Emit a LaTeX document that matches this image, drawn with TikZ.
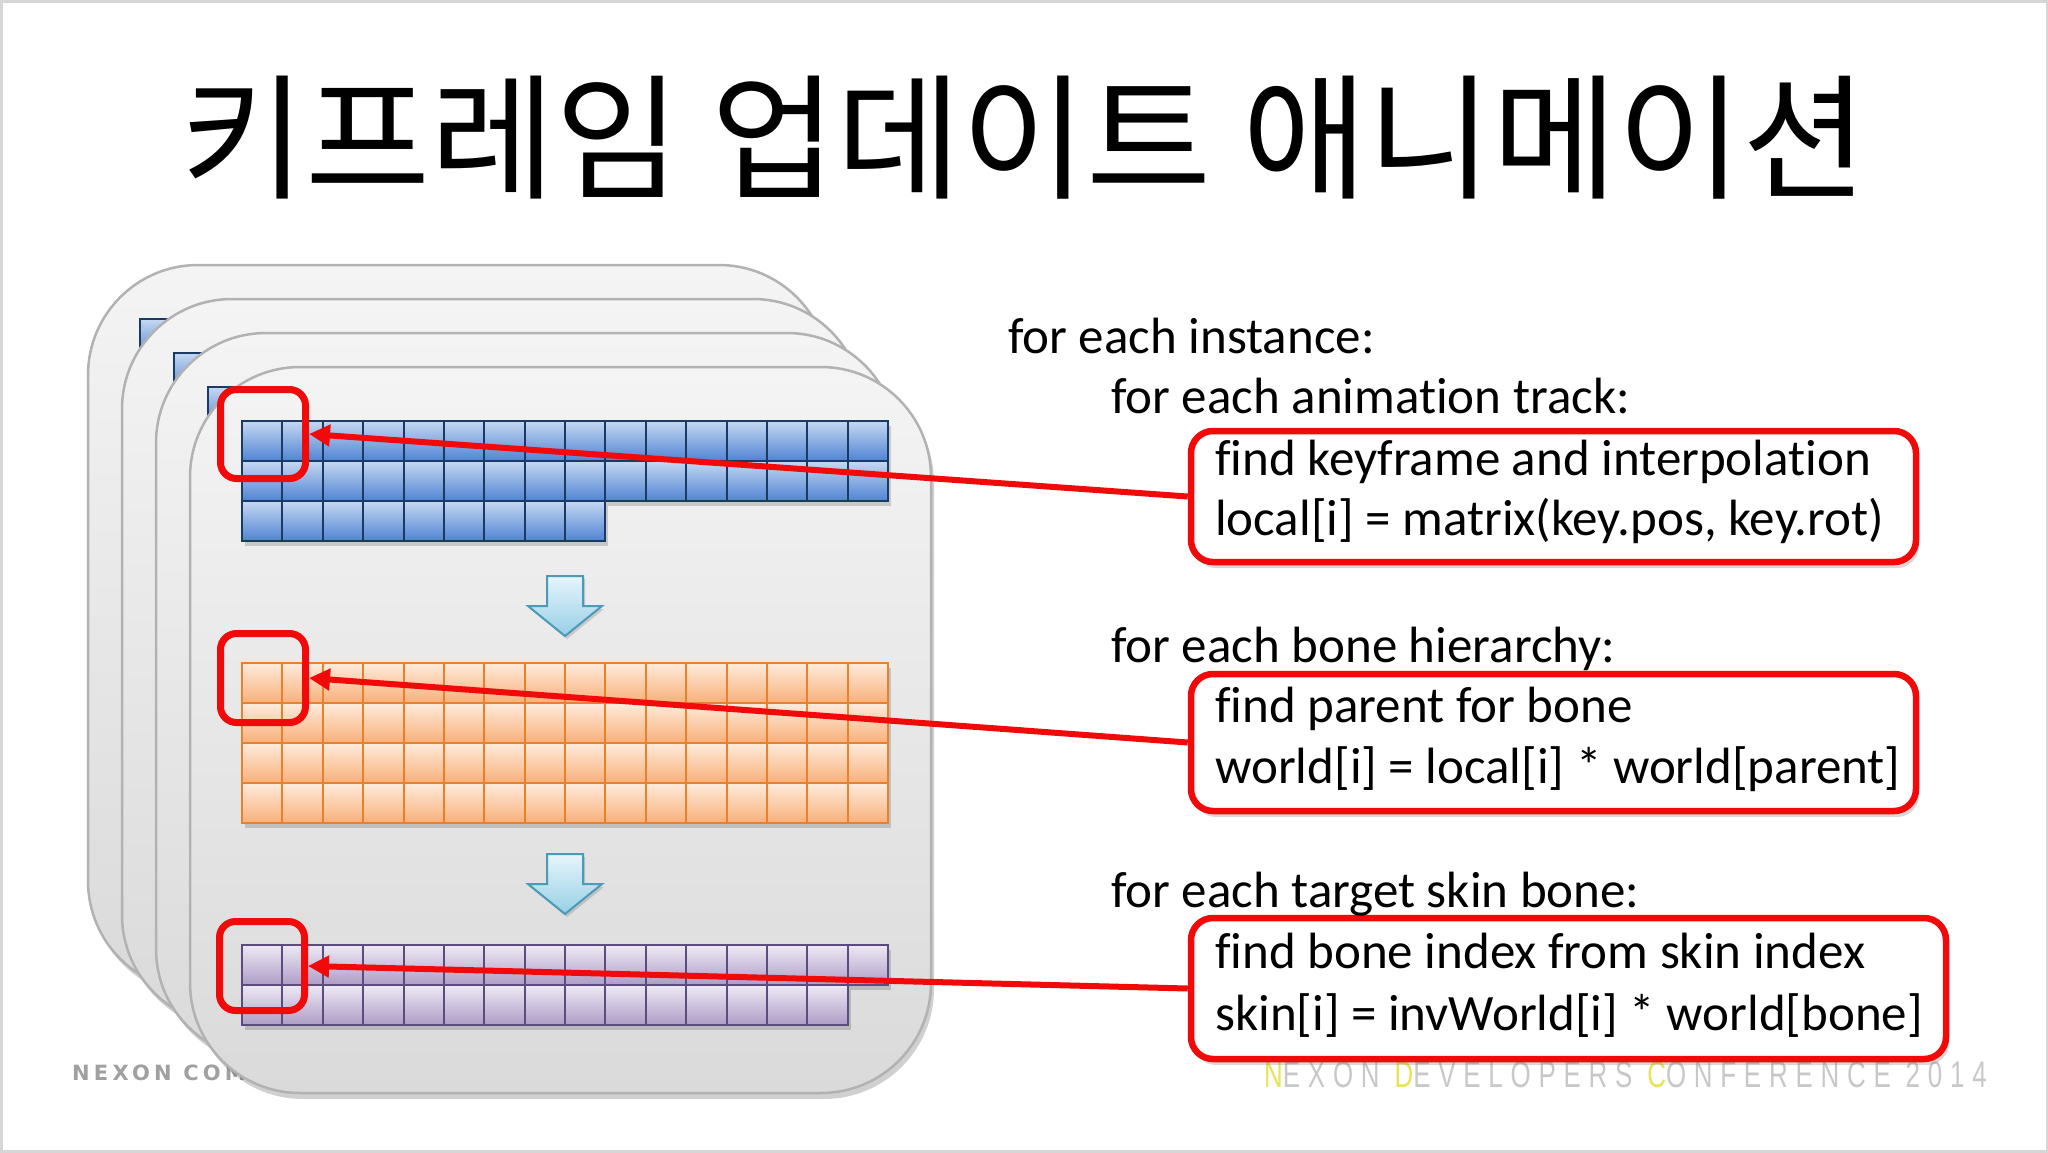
\documentclass[tikz,border=0pt]{standalone}
\usepackage{fontspec}
\setmainfont[Ligatures=CommonOff]{Carlito}
\newfontfamily\krfont{Noto Sans CJK KR}
\newfontfamily\nexonfont[LetterSpace=20]{DejaVu Sans Bold}
\newfontfamily\ndcfont[FakeStretch=0.7,LetterSpace=21]{Liberation Sans}
\usetikzlibrary{shadows,arrows.meta}

\definecolor{cardtop}{HTML}{F4F4F4}
\definecolor{cardbot}{HTML}{DADADA}
\definecolor{cardline}{HTML}{B2B2B2}
\definecolor{bluetop}{HTML}{C6D8F2}
\definecolor{bluebot}{HTML}{4F83D3}
\definecolor{blueline}{HTML}{1B3A63}
\definecolor{orgtop}{HTML}{FEEBDC}
\definecolor{orgbot}{HTML}{F8B07A}
\definecolor{orgline}{HTML}{E8802C}
\definecolor{purtop}{HTML}{EEE9F4}
\definecolor{purbot}{HTML}{AD9CC6}
\definecolor{purline}{HTML}{5E4B7D}
\definecolor{arrtop}{HTML}{E6F5FB}
\definecolor{arrbot}{HTML}{97CFE6}
\definecolor{arrline}{HTML}{4C9AB8}
\definecolor{hlred}{HTML}{F00A0A}
\definecolor{framegray}{HTML}{D6D6D6}
\definecolor{footgray}{HTML}{A0A0A0}
\definecolor{ndcgray}{HTML}{C8C8C8}
\definecolor{ndcyellow}{HTML}{E6E655}

\tikzset{
  card/.style={draw=cardline, line width=2.5pt, rounded corners=110pt,
    top color=cardtop, bottom color=cardbot, inner sep=0pt, outer sep=0pt,
    minimum width=741pt, minimum height=726pt, anchor=north west,
    drop shadow={shadow xshift=3pt, shadow yshift=-6pt, opacity=0.3, fill=black!60}},
  bluecell/.style={top color=bluetop, bottom color=bluebot, draw=blueline, line width=2pt},
  orgcell/.style={top color=orgtop, bottom color=orgbot, draw=orgline, line width=2pt},
  purcell/.style={top color=purtop, bottom color=purbot, draw=purline, line width=2pt},
  cellshadow/.style={fill=black, opacity=0.16},
  blockarrow/.style={top color=arrtop, bottom color=arrbot, draw=arrline, line width=2pt,
    line join=miter,
    drop shadow={shadow xshift=2pt, shadow yshift=-3pt, opacity=0.25, fill=black!60}},
  hlbox/.style={draw=hlred, line width=7pt, rounded corners=16pt, inner sep=0pt,
    minimum width=85pt, minimum height=89pt},
  codebox/.style={draw=hlred, fill=white, line width=6.5pt, rounded corners=22pt, inner sep=0pt,
    drop shadow={shadow xshift=3pt, shadow yshift=-6pt, opacity=0.3, fill=black!50}},
  link/.style={draw=hlred, line width=6pt, -{Triangle[length=21pt,width=21pt]}},
  code/.style={inner sep=0pt, anchor=base west, font=\fontsize{51}{60}\selectfont, text=black},
}

% #1 x0, #2 y0, #3 list row/count, #4 cell style, #5 cell width
\newcommand\gridrows[5]{%
  \foreach \rr/\nn in {#3} {
    \fill[cellshadow] ({#1+3},{#2+\rr*40+5}) rectangle ({#1+3+\nn*#5},{#2+(\rr+1)*40+5});
  }
  \foreach \rr/\nn in {#3} {
    \foreach \cc in {1,...,\nn} {
      \path[#4] ({#1+(\cc-1)*#5},{#2+\rr*40}) rectangle ({#1+\cc*#5},{#2+(\rr+1)*40});
    }
  }
}
% #1 top y of the block arrow
\newcommand\blockarr[1]{%
  \path[blockarrow] (547,#1) -- (583,#1) -- (583,{#1+30}) -- (602,{#1+30})
    -- (565,{#1+60}) -- (528,{#1+30}) -- (547,{#1+30}) -- cycle;
}

\begin{document}
\begin{tikzpicture}[x=1pt,y=-1pt]
\useasboundingbox (0,0) rectangle (2048,1152);
\fill[white] (0,0) rectangle (2048,1152);
\draw[framegray, line width=5pt] (0,0) rectangle (2048,1152);

% title
\node[font=\krfont\fontsize{136}{150}\selectfont, inner sep=0pt] (title) at (1024,137.5)
  {키프레임 업데이트 애니메이션};

% footer left (partly hidden by the cards)
\node[font=\nexonfont\fontsize{21}{24}\selectfont, text=footgray, inner sep=0pt, anchor=base west]
  (nexon) at (72,1080) {NEXON COM};

% stacked cards
\node[card] (card1) at (88,265) {};
\gridrows{140}{319}{0/16,1/16,2/9}{bluecell}{40.375}
\node[card] (card2) at (122,299) {};
\gridrows{174}{353}{0/16,1/16,2/9}{bluecell}{40.375}
\node[card] (card3) at (156,333) {};
\gridrows{208}{387}{0/16,1/16,2/9}{bluecell}{40.375}
\node[card] (card4) at (190,367) {};
\gridrows{242}{421}{0/16,1/16,2/9}{bluecell}{40.375}
\gridrows{242}{663}{0/16,1/16,2/16,3/16}{orgcell}{40.375}
\gridrows{242}{945}{0/16,1/15}{purcell}{40.375}
\blockarr{576}
\blockarr{854}

% highlight squares
\node[hlbox] (sq1) at (263,434) {};
\node[hlbox] (sq2) at (263,678) {};
\node[hlbox] (sq3) at (262,966) {};

% footer right
\node[font=\ndcfont\fontsize{37}{40}\selectfont, text=ndcgray, inner sep=0pt, anchor=base west]
  (ndc) at (1264,1087) {\textcolor{ndcyellow}{N}EXON \textcolor{ndcyellow}{D}EVELOPERS \textcolor{ndcyellow}{C}ONFERENCE 2014};

% code boxes
\node[codebox, minimum width=725pt, minimum height=131pt] (box1) at (1553.5,496.5) {};
\node[codebox, minimum width=725pt, minimum height=137pt] (box2) at (1553.5,742.5) {};
\node[codebox, minimum width=755pt, minimum height=141pt] (box3) at (1568.5,988.5) {};

% connectors
\draw[link] (box1.west) -- (sq1.east);
\draw[link] (box2.west) -- (sq2.east);
\draw[link] (box3.west) -- (sq3.east);

% pseudo code
\node[code] (t0) at (1008,353) {for each instance:};
\node[code] (t1) at (1111,413) {for each animation track:};
\node[code] (t2) at (1215,475) {find keyframe and interpolation};
\node[code] (t3) at (1215,535) {local[i] = matrix(key.pos, key.rot)};
\node[code] (t4) at (1111,662) {for each bone hierarchy:};
\node[code] (t5) at (1215,722) {find parent for bone};
\node[code] (t6) at (1215,783) {world[i] = local[i] * world[parent]};
\node[code] (t7) at (1111,907) {for each target skin bone:};
\node[code] (t8) at (1215,968) {find bone index from skin index};
\node[code] (t9) at (1215,1030) {skin[i] = invWorld[i] * world[bone]};
\end{tikzpicture}
\end{document}
